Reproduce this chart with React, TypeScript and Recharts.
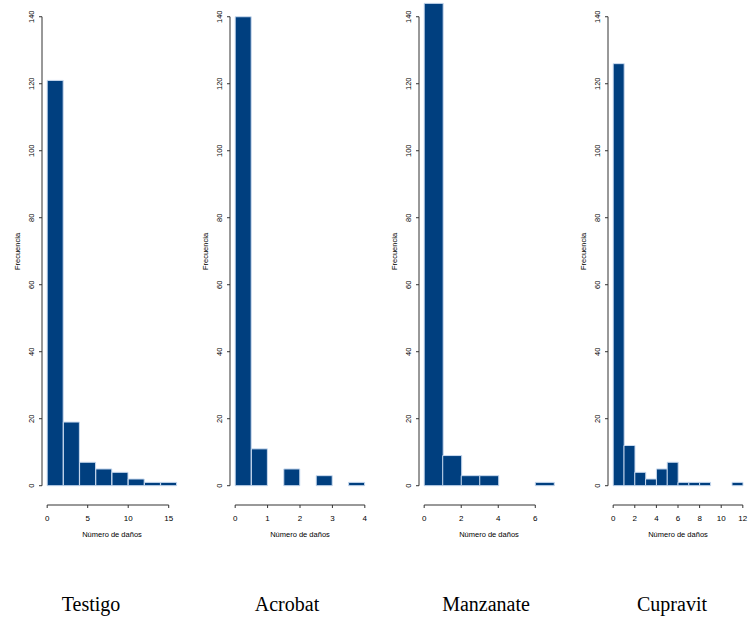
import React from 'react';
import { BarChart, Bar, XAxis, YAxis, ReferenceLine, Label } from 'recharts';

// ---- data ----
const testigoCounts = [121, 19, 7, 5, 4, 2, 1, 1];
const testigoBinWidth = 2;
const testigoTicks = [0, 5, 10, 15];

const acrobatCounts = [140, 11, 0, 5, 0, 3, 0, 1];
const acrobatBinWidth = 0.5;
const acrobatTicks = [0, 1, 2, 3, 4];

const manzanateCounts = [144, 9, 3, 3, 0, 0, 1];
const manzanateBinWidth = 1;
const manzanateTicks = [0, 2, 4, 6];

const cupravitCounts = [126, 12, 4, 2, 5, 7, 1, 1, 1, 0, 0, 1];
const cupravitBinWidth = 1;
const cupravitTicks = [0, 2, 4, 6, 8, 10, 12];

const yTicks = [0, 20, 40, 60, 80, 100, 120, 140];
const titles = ['Testigo', 'Acrobat', 'Manzanate', 'Cupravit'];
const xLabel = 'Número de daños';
const yLabel = 'Frecuencia';

// ---- style ----
const FILL = '#003f7f';
const BORDER = '#cadbf0';
const AXIS = '#333';
const SANS = '"Liberation Sans", Arial, sans-serif';
const SERIF = '"Liberation Serif", "Times New Roman", serif';

const Y_AXIS_W = 41;
const PLOT_W = 140;
const PLOT_H = 505;
const X_AXIS_H = 45;
const Y_MIN = -5.76;
const Y_MAX = 145;

type PanelProps = {
  counts: number[];
  binWidth: number;
  ticks: number[];
  plotLeft: number;
};

const YTick = (p: any) => (
  <text
    x={p.x}
    y={p.y}
    transform={`rotate(-90, ${p.x}, ${p.y})`}
    textAnchor="middle"
    fontSize={7.5}
    fontFamily={SANS}
    fill="#000"
  >
    {p.payload.value}
  </text>
);

function Panel({ counts, binWidth, ticks, plotLeft }: PanelProps) {
  const range = counts.length * binWidth;
  const xMin = -0.04 * range;
  const xMax = range * 1.04;
  const data = counts.map((c, i) => ({ mid: i * binWidth + binWidth / 2, count: c }));
  const lastTick = ticks[ticks.length - 1];
  return (
    <div style={{ position: 'absolute', left: plotLeft - Y_AXIS_W, top: 0 }}>
      <BarChart
        width={Y_AXIS_W + PLOT_W + 8}
        height={PLOT_H + X_AXIS_H}
        data={data}
        margin={{ top: 0, right: 8, left: 0, bottom: 0 }}
        barCategoryGap={0}
        barGap={0}
      >
        <XAxis
          type="number"
          dataKey="mid"
          domain={[xMin, xMax]}
          allowDataOverflow
          ticks={ticks}
          interval={0}
          axisLine={false}
          tickLine={{ stroke: AXIS }}
          tickSize={3}
          tickMargin={7}
          height={X_AXIS_H}
          tick={{ fill: '#000', fontSize: 8, fontFamily: SANS }}
        >
          <Label
            content={(props: any) => {
              const vb = props.viewBox;
              return (
                <text
                  x={vb.x + vb.width / 2}
                  y={vb.y + 32}
                  textAnchor="middle"
                  fontSize={7.5}
                  fontFamily={SANS}
                  fill="#000"
                >
                  {xLabel}
                </text>
              );
            }}
          />
        </XAxis>
        <YAxis
          type="number"
          domain={[Y_MIN, Y_MAX]}
          allowDataOverflow
          ticks={yTicks}
          interval={0}
          width={Y_AXIS_W}
          axisLine={false}
          tickLine={{ stroke: AXIS }}
          tickSize={3}
          tickMargin={5}
          tick={YTick}
        >
          <Label
            content={(props: any) => {
              const vb = props.viewBox;
              const x = vb.x + 18.5;
              const y = vb.y + vb.height / 2 - 1;
              return (
                <text
                  x={x}
                  y={y}
                  transform={`rotate(-90, ${x}, ${y})`}
                  textAnchor="middle"
                  fontSize={7.5}
                  fontFamily={SANS}
                  fill="#000"
                >
                  {yLabel}
                </text>
              );
            }}
          />
        </YAxis>
        <Bar
          dataKey="count"
          fill={FILL}
          stroke={BORDER}
          strokeWidth={1}
          isAnimationActive={false}
        />
        <ReferenceLine
          segment={[{ x: xMin, y: 0 }, { x: xMin, y: 140 }]}
          stroke={AXIS}
          strokeWidth={1}
          ifOverflow="visible"
        />
        <ReferenceLine
          segment={[{ x: 0, y: Y_MIN }, { x: lastTick, y: Y_MIN }]}
          stroke={AXIS}
          strokeWidth={1}
          ifOverflow="visible"
        />
      </BarChart>
    </div>
  );
}

const titleCenters = [91, 287, 486, 672];

export default function App() {
  return (
    <div style={{ position: 'absolute', left: 0, top: 0, width: 749, height: 618, background: '#fff', overflow: 'hidden' }}>
      <Panel counts={testigoCounts} binWidth={testigoBinWidth} ticks={testigoTicks} plotLeft={42} />
      <Panel counts={acrobatCounts} binWidth={acrobatBinWidth} ticks={acrobatTicks} plotLeft={230} />
      <Panel counts={manzanateCounts} binWidth={manzanateBinWidth} ticks={manzanateTicks} plotLeft={419} />
      <Panel counts={cupravitCounts} binWidth={cupravitBinWidth} ticks={cupravitTicks} plotLeft={608} />
      <svg width={749} height={618} style={{ position: 'absolute', left: 0, top: 0, pointerEvents: 'none' }}>
        {titles.map((t, i) => (
          <text key={t} x={titleCenters[i]} y={611} textAnchor="middle" fontSize={20} fontFamily={SERIF} fill="#000">
            {t}
          </text>
        ))}
      </svg>
    </div>
  );
}
